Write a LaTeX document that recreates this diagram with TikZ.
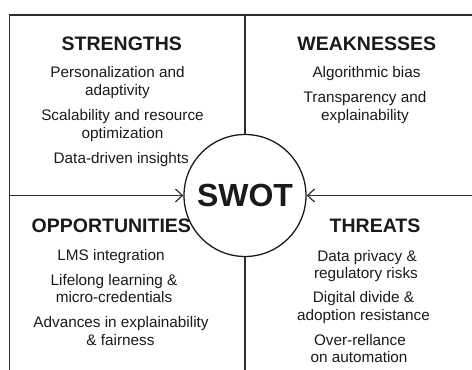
\documentclass[tikz,border=0pt]{standalone}
\usepackage{fontspec}
\setmainfont{Liberation Sans}
\usetikzlibrary{arrows.meta}
\definecolor{ink}{HTML}{1A1A1A}
\definecolor{rule}{HTML}{2E2E2E}
\tikzset{
  title/.style={anchor=base, font=\fontsize{19.5}{22}\selectfont\bfseries, text=ink, inner sep=0pt},
  item/.style={anchor=base, font=\fontsize{15.3}{18}\selectfont, text=ink, inner sep=0pt},
  frame/.style={draw=rule, line width=1.3pt},
  pointer/.style={draw=rule, line width=1.2pt, -{Straight Barb[length=7pt, width=13pt, line width=1.2pt]}},
  hub/.style={circle, draw=ink, line width=1.3pt, minimum size=122pt, inner sep=0pt, fill=white,
              font=\fontsize{32}{36}\selectfont\bfseries, text=ink}
}
\begin{document}
\begin{tikzpicture}[x=1pt, y=-1pt]
\useasboundingbox (0,0) rectangle (472,370);

% outer frame (open at right and bottom)
\coordinate (tl) at (9.5,15);
\coordinate (tr) at (472,15);
\coordinate (bl) at (9.5,370);
\draw[frame, line width=1.6pt, line cap=rect] (bl) -- (tl) -- (tr);

% central hub
\node[hub] (swot) at (245,195.5) {SWOT};

% quadrant dividers
\coordinate (vtop) at (245,15);
\coordinate (vbot) at (245,370);
\coordinate (hl) at (9.5,195.5);
\coordinate (hr) at (472,195.5);
\draw[frame] (vtop) -- (swot.north);
\draw[frame] (swot.south) -- (vbot);
\draw[pointer] (hl) -- (swot.west);
\draw[pointer] (hr) -- (swot.east);

% strengths
\node[title] (sT) at (121.8,50) {STRENGTHS};
\node[item] (s1a) at (117.5,77) {Personalization and};
\node[item] (s1b) at (117.5,95.5) {adaptivity};
\node[item] (s2a) at (122.5,120) {Scalability and resource};
\node[item] (s2b) at (122.5,138) {optimization};
\node[item] (s3) at (121.3,163) {Data-driven insights};

% weaknesses
\node[title] (wT) at (366.7,50) {WEAKNESSES};
\node[item] (w1) at (366.5,77.3) {Algorithmic bias};
\node[item] (w2a) at (365,102) {Transparency and};
\node[item] (w2b) at (365,120) {explainability};

% opportunities
\node[title] (oT) at (111.3,232.7) {OPPORTUNITIES};
\node[item] (o1) at (111,260.7) {LMS integration};
\node[item] (o2a) at (114,285) {Lifelong learning \&};
\node[item] (o2b) at (114,302.7) {micro-credentials};
\node[item] (o3a) at (121,327.7) {Advances in explainability};
\node[item] (o3b) at (120.5,345.7) {\& fairness};

% threats
\node[title] (tT) at (375,232.7) {THREATS};
\node[item] (t1a) at (367,261) {Data privacy \&};
\node[item] (t1b) at (366,278.3) {regulatory risks};
\node[item] (t2a) at (363.5,302.7) {Digital divide \&};
\node[item] (t2b) at (363.5,320) {adoption resistance};
\node[item] (t3a) at (360,345.7) {Over-rellance};
\node[item] (t3b) at (359,362.7) {on automation};
\end{tikzpicture}
\end{document}
